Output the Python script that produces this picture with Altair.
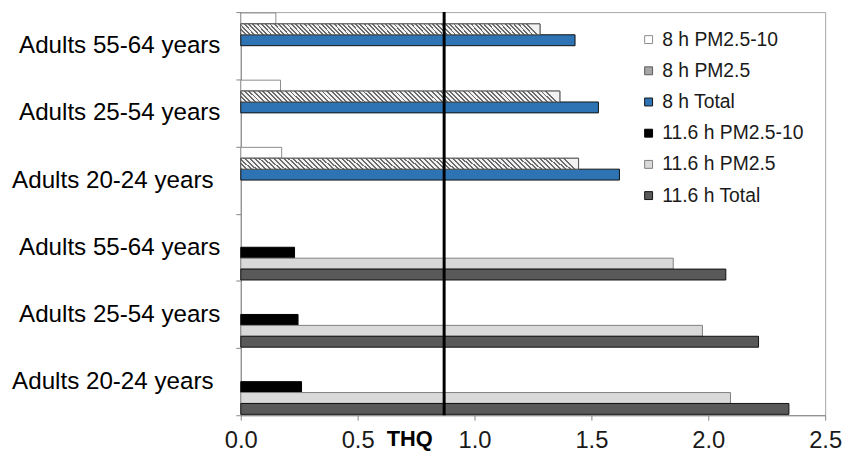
import altair as alt
import pandas as pd

# ---- data ----
series = ["8 h PM2.5-10", "8 h PM2.5", "8 h Total",
          "11.6 h PM2.5-10", "11.6 h PM2.5", "11.6 h Total"]
age_groups = ["Adults 55-64 years", "Adults 25-54 years", "Adults 20-24 years"]
durations = ["8 h", "11.6 h"]

v_8h_pm25_10 = [0.15, 0.17, 0.175]
v_8h_pm25 = [1.28, 1.365, 1.445]
v_8h_total = [1.43, 1.53, 1.62]
v_116h_pm25_10 = [0.23, 0.245, 0.26]
v_116h_pm25 = [1.85, 1.975, 2.095]
v_116h_total = [2.075, 2.215, 2.345]

x_ticks = [0.0, 0.5, 1.0, 1.5, 2.0, 2.5]
thq_line = [0.87]

fill_colors = ["#ffffff", "#a6a6a6", "#2e74b5", "#000000", "#d9d9d9", "#595959"]
stroke_colors = ["#8c8c8c", "#595959", "#111111", "#000000", "#7f7f7f", "#111111"]

# ---- table ----
per_duration = {
    "8 h": [v_8h_pm25_10, v_8h_pm25, v_8h_total],
    "11.6 h": [v_116h_pm25_10, v_116h_pm25, v_116h_total],
}
rows = []
cat_order = []
for di, d in enumerate(durations):
    for ai, age in enumerate(age_groups):
        key = f"{d}|{age}"
        cat_order.append(key)
        for si, vals in enumerate(per_duration[d]):
            rows.append({"cat": key, "series": series[di * 3 + si], "value": vals[ai]})
df = pd.DataFrame(rows)

# hatch pattern approximated with a striped linear gradient
n_stripes = 70
dark, light = "#6b6b6b", "#f2f2f2"
stops = []
for i in range(n_stripes):
    a = i / n_stripes
    b = (i + 0.42) / n_stripes
    c = (i + 1) / n_stripes
    stops += [alt.GradientStop(color=dark, offset=a), alt.GradientStop(color=dark, offset=b),
              alt.GradientStop(color=light, offset=b), alt.GradientStop(color=light, offset=c)]
hatch = alt.LinearGradient(gradient="linear", stops=stops, x1=0, y1=1, x2=1, y2=1 - 11 / 320)

label_expr = "split(datum.label, '|')[1]"

y_enc = alt.Y("cat:N", sort=cat_order,
              scale=alt.Scale(domain=cat_order, paddingInner=0, paddingOuter=0),
              axis=alt.Axis(title=None, labelExpr=label_expr, labelFontSize=24.4, labelColor="#000000",
                            labelLimit=400,
                            labelPadding={"condition": {"test": "indexof(datum.label, '20-24') >= 0",
                                                        "value": 23}, "value": 16},
                            tickSize=5, tickBand="extent",
                            domainColor="#868686", tickColor="#868686", grid=False))
yoff_enc = alt.YOffset("series:N", sort=series,
                       scale=alt.Scale(domain=series, paddingInner=0, paddingOuter=0.08))
x_enc = alt.X("value:Q",
              scale=alt.Scale(domain=[0, 2.5], nice=False, zero=True),
              axis=alt.Axis(values=x_ticks, format=".1f", labelFontSize=24, labelColor="#1a1a1a",
                            labelPadding=9, tickSize=5, domainColor="#868686", tickColor="#868686",
                            grid=False, title="THQ", titleFontSize=22, titleFontWeight="bold",
                            titleColor="#000000", titleX=170, titleY=31, titleAlign="center",
                            titleBaseline="alphabetic", labelFlush=False))

bars = alt.Chart(df).mark_bar(strokeWidth=1).encode(
    x=x_enc, y=y_enc, yOffset=yoff_enc,
    fill=alt.Fill("series:N", sort=series, scale=alt.Scale(domain=series, range=fill_colors),
                  legend=alt.Legend(title=None)),
    stroke=alt.Stroke("series:N", sort=series, scale=alt.Scale(domain=series, range=stroke_colors),
                      legend=alt.Legend(title=None)),
)

hatched = alt.Chart(df).transform_filter(alt.datum.series == "8 h PM2.5").mark_bar(
    fill=hatch, stroke="#595959", strokeWidth=1
).encode(x=alt.X("value:Q"), y=alt.Y("cat:N", sort=cat_order), yOffset=alt.YOffset("series:N", sort=series))

rule = alt.Chart(pd.DataFrame({"thq": thq_line})).mark_rule(color="#000000", strokeWidth=3).encode(
    x=alt.X("thq:Q"))

chart = alt.layer(bars, hatched, rule).properties(
    width=590, height=407,
    autosize=alt.AutoSizeParams(type="none"),
    padding={"left": 235, "top": 2, "right": 17, "bottom": 38},
).configure(font="Liberation Sans").configure_view(
    stroke="#a6a6a6", strokeWidth=1
).configure_legend(
    orient="none", legendX=402, legendY=18, symbolType="square", symbolSize=64,
    symbolStrokeWidth=1, labelFontSize=19.5, labelColor="#1a1a1a", rowPadding=10.5,
    labelOffset=4, padding=0, labelLimit=300
)

chart.save("out.html", embed_options={"renderer": "svg", "actions": False})
